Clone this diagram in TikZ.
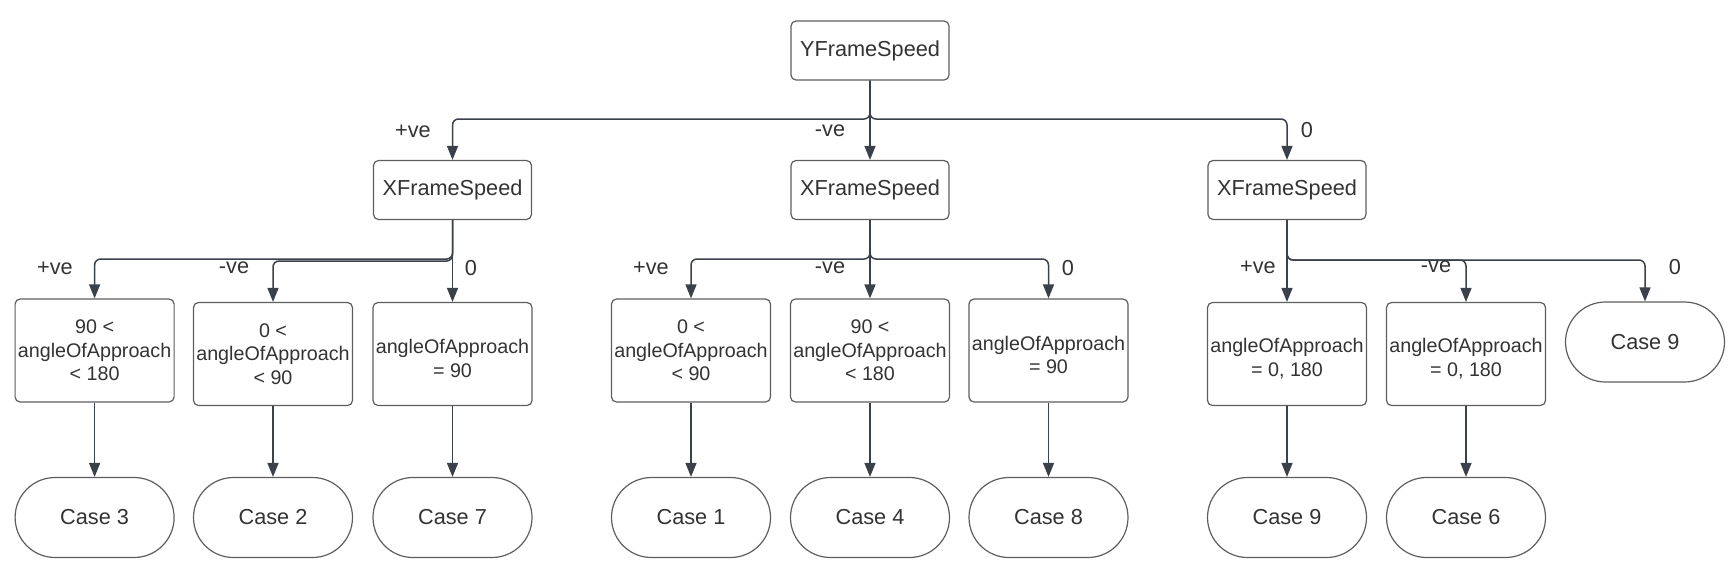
\documentclass[tikz,border=0pt]{standalone}
\usepackage{fontspec}
\setmainfont{Liberation Sans}
\usetikzlibrary{arrows.meta}
\definecolor{linec}{RGB}{58,65,74}
\definecolor{boxc}{RGB}{94,94,94}
\definecolor{textc}{RGB}{51,51,51}
\begin{document}
\begin{tikzpicture}[x=0.5pt,y=-0.5pt,
  base/.style={draw=boxc,line width=0.6pt,fill=white,text=textc,inner sep=0pt,align=center},
  xbox/.style={base,rounded corners=2.5pt,minimum width=79pt,minimum height=29.5pt,font=\fontsize{10.85}{13}\selectfont},
  cbox/.style={base,rounded corners=2.5pt,minimum width=79.5pt,minimum height=51.5pt,font=\fontsize{9.85}{11.75}\selectfont},
  casebox/.style={base,rounded corners=20pt,minimum width=79.5pt,minimum height=40pt,font=\fontsize{10.85}{13}\selectfont},
  conn/.style={draw=linec,line width=0.75pt,rounded corners=3pt,-{Triangle[width=5.5pt,length=7pt]}},
  lbl/.style={text=textc,inner sep=0pt,font=\fontsize{10.85}{13}\selectfont}]
\useasboundingbox (0,0) rectangle (1731,563);
% level 0 and 1
\node[xbox] (Y) at (870,50.5) {YFrameSpeed};
\node[xbox] (XL) at (452.5,190) {XFrameSpeed};
\node[xbox] (XM) at (870,190) {XFrameSpeed};
\node[xbox] (XR) at (1287,190) {XFrameSpeed};
% conditions
\node[cbox] (b1) at (94.6,350.5) {90 <\\angleOfApproach\\< 180};
\node[cbox] (b2) at (273,354) {0 <\\angleOfApproach\\< 90};
\node[cbox] (b3) at (452.5,354) {\mbox{}\\angleOfApproach\\= 90};
\node[cbox] (b4) at (691,350.5) {0 <\\angleOfApproach\\< 90};
\node[cbox] (b5) at (870,350.5) {90 <\\angleOfApproach\\< 180};
\node[cbox] (b6) at (1048.5,350.5) {\mbox{}\\angleOfApproach\\= 90};
\node[cbox] (b7) at (1287,354) {\mbox{}\\angleOfApproach\\= 0, 180};
\node[cbox] (b8) at (1466,354) {\mbox{}\\angleOfApproach\\= 0, 180};
% cases
\node[casebox] (c3) at (94.6,517.5) {Case 3};
\node[casebox] (c2) at (273,517.5) {Case 2};
\node[casebox] (c7) at (452.5,517.5) {Case 7};
\node[casebox] (c1) at (691,517.5) {Case 1};
\node[casebox] (c4) at (870,517.5) {Case 4};
\node[casebox] (c8) at (1048.5,517.5) {Case 8};
\node[casebox] (c9a) at (1287,517.5) {Case 9};
\node[casebox] (c6) at (1466,517.5) {Case 6};
\node[casebox] (c9b) at (1645,342) {Case 9};
% junctions
\coordinate (j0) at (870,119);
\coordinate (jL) at (452.5,259);
\coordinate (jL2) at (452.5,261);
\coordinate (jM) at (870,259);
\coordinate (jR) at (1287,260);
% connectors level 0
\draw[conn] (Y.south) -- (j0) -| (XL.north);
\draw[conn] (Y.south) -- (XM.north);
\draw[conn] (Y.south) -- (j0) -| (XR.north);
% left group
\draw[conn] (XL.south) -- (jL) -| (b1.north);
\draw[conn] (XL.south) -- (jL2) -| (b2.north);
\draw[conn] (XL.south) -- (b3.north);
% middle group
\draw[conn] (XM.south) -- (jM) -| (b4.north);
\draw[conn] (XM.south) -- (b5.north);
\draw[conn] (XM.south) -- (jM) -| (b6.north);
% right group
\draw[conn] (XR.south) -- (b7.north);
\draw[conn] (XR.south) -- (jR) -| (b8.north);
\draw[conn] (XR.south) -- (jR) -| (c9b.north);
% to cases
\draw[conn] (b1.south) -- (c3.north);
\draw[conn] (b2.south) -- (c2.north);
\draw[conn] (b3.south) -- (c7.north);
\draw[conn] (b4.south) -- (c1.north);
\draw[conn] (b5.south) -- (c4.north);
\draw[conn] (b6.south) -- (c8.north);
\draw[conn] (b7.south) -- (c9a.north);
\draw[conn] (b8.south) -- (c6.north);
% labels
\node[lbl] (l1) at (413,131) {+ve};
\node[lbl] (l2) at (830,131) {-ve};
\node[lbl] (l3) at (1307,130) {0};
\node[lbl] (l4) at (55,268) {+ve};
\node[lbl] (l5) at (234,268) {-ve};
\node[lbl] (l6) at (471,268) {0};
\node[lbl] (l7) at (651,268) {+ve};
\node[lbl] (l8) at (830,268) {-ve};
\node[lbl] (l9) at (1068,268) {0};
\node[lbl] (l10) at (1258,267) {+ve};
\node[lbl] (l11) at (1436,267) {-ve};
\node[lbl] (l12) at (1675,267) {0};
\end{tikzpicture}
\end{document}
